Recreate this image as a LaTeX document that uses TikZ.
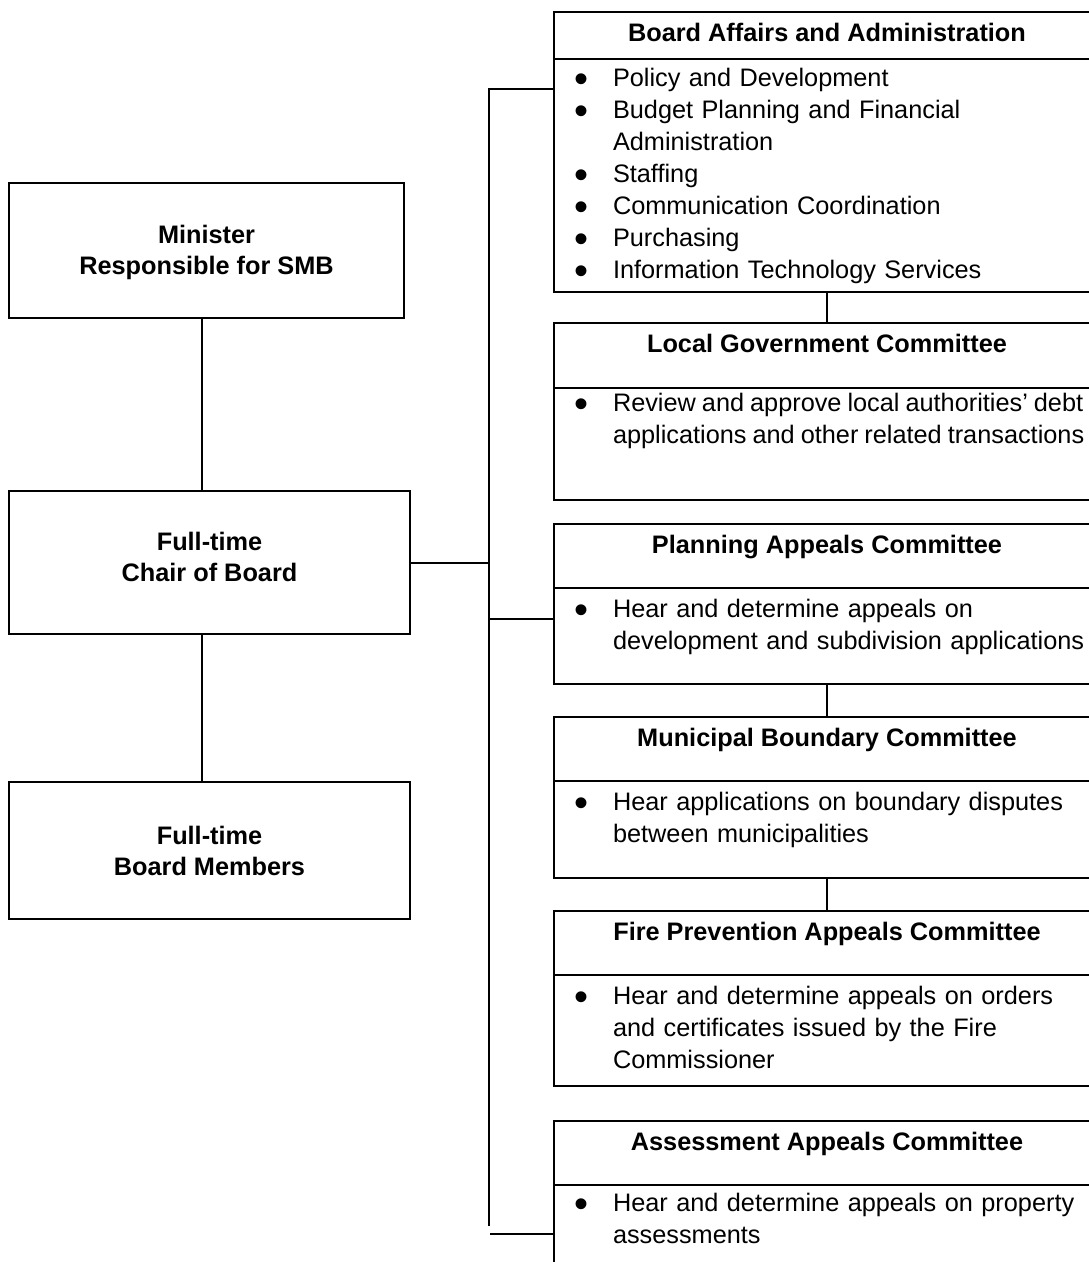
\documentclass[tikz,border=0pt]{standalone}
\usepackage{fontspec}
\setmainfont{Liberation Sans}
\newcommand{\unititem}[1]{\par\hangindent=39pt\hangafter=1\noindent\strut
  \makebox[39pt][l]{\raisebox{-6pt}{\fontsize{40}{32}\selectfont\textbullet}}#1\par}
\tikzset{
  chartbox/.style={draw, line width=2pt, inner sep=0pt, align=center,
    font=\bfseries\fontsize{25.3}{31}\selectfont},
  headbox/.style={draw, line width=2pt, anchor=north west, inner sep=0pt,
    minimum width=546pt, text height=29pt, text depth=#1,
    font=\bfseries\fontsize{25.3}{32}\selectfont},
  bodybox/.style={draw, line width=2pt, anchor=north west, inner sep=0pt,
    minimum width=546pt, minimum height=#1},
  unitlist/.style={anchor=north west, inner sep=0pt, text width=560pt,
    align=left, font=\fontsize{25.3}{32}\selectfont}
}
\begin{document}
\begin{tikzpicture}[x=1pt, y=-1pt, line width=2pt]
      \fill[white] (0,0) rectangle (1089,1262);
      \useasboundingbox (0,0) rectangle (1089,1262);
      % left column
      \node[chartbox, minimum width=395pt, minimum height=135pt] (mini) at (206.5,250.5)
        {\rule{0pt}{23pt}Minister\\Responsible for SMB};
      \node[chartbox, minimum width=401pt, minimum height=143pt] (chair) at (209.5,562.5)
        {Full-time\\Chair of Board\rule[-12pt]{0pt}{12pt}};
      \node[chartbox, minimum width=401pt, minimum height=137pt] (members) at (209.5,850.5)
        {Full-time\\Board Members};
      % right column
      \node[headbox=18pt] (boardhead) at (553,11) {Board Affairs and Administration};
      \node[bodybox=233pt] (boardbody) at (553,58) {};
      \node[unitlist] (boardlist) at (573,53.6) {%
        \unititem{Policy and Development}
        \unititem{Budget Planning and Financial\newline Administration}
        \unititem{Staffing}
        \unititem{Communication Coordination}
        \unititem{Purchasing}
        \unititem{Information Technology Services}};
      \node[headbox=36pt] (localhead) at (553,322) {Local Government Committee};
      \node[bodybox=112pt] (localbody) at (553,387) {};
      \node[unitlist] (locallist) at (573,378.6) {\spaceskip=6pt
        \unititem{Review and approve local authorities’ debt\newline applications and other related transactions}};
      \node[headbox=35pt] (planhead) at (553,523) {Planning Appeals Committee};
      \node[bodybox=96pt] (planbody) at (553,587) {};
      \node[unitlist] (planlist) at (573,584.6) {%
        \unititem{Hear and determine appeals on\newline development and subdivision applications}};
      \node[headbox=35pt] (munihead) at (553,716) {Municipal Boundary Committee};
      \node[bodybox=97pt] (munibody) at (553,780) {};
      \node[unitlist] (munilist) at (573,777.6) {%
        \unititem{Hear applications on boundary disputes\newline between municipalities}};
      \node[headbox=35pt] (firehead) at (553,910) {Fire Prevention Appeals Committee};
      \node[bodybox=111pt] (firebody) at (553,974) {};
      \node[unitlist] (firelist) at (573,971.6) {%
        \unititem{Hear and determine appeals on orders\newline and certificates issued by the Fire\newline Commissioner}};
      \node[headbox=35pt] (assesshead) at (553,1120) {Assessment Appeals Committee};
      \node[bodybox=120pt] (assessbody) at (553,1184) {};
      \node[unitlist] (assesslist) at (573,1178.6) {%
        \unititem{Hear and determine appeals on property\newline assessments}};
      % connectors
      \coordinate (bustop) at (489,89);
      \coordinate (busend) at (489,1226);
      \coordinate (planjoin) at (489,619);
      \coordinate (assessjoin) at (490,1234);
      \draw (mini.south -| 202,0) -- (chair.north -| 202,0);
      \draw (chair.south -| 202,0) -- (members.north -| 202,0);
      \draw (bustop -| boardbody.west) -- (bustop) -- (busend);
      \draw (chair.east) -- (chair.east -| bustop);
      \draw (planjoin) -- (planjoin -| planbody.west);
      \draw (assessjoin) -- (assessjoin -| assessbody.west);
      \draw (boardbody.south) -- (localhead.north);
      \draw (planbody.south) -- (munihead.north);
      \draw (munibody.south) -- (firehead.north);
    \end{tikzpicture}
\end{document}
